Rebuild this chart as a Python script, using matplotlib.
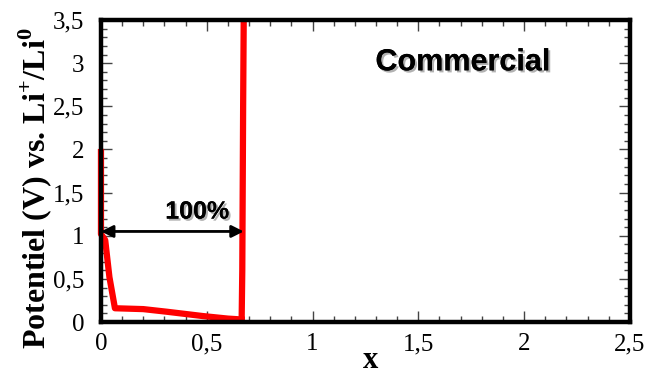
import matplotlib
matplotlib.use("Agg")
import matplotlib.pyplot as plt
import matplotlib.patheffects as pe
from matplotlib.ticker import MultipleLocator, FuncFormatter

plt.rcParams["mathtext.fontset"] = "custom"
plt.rcParams["mathtext.bf"] = "Liberation Serif:bold"
plt.rcParams["mathtext.rm"] = "Liberation Serif"
plt.rcParams["mathtext.sf"] = "Liberation Serif:bold"

# Galvanostatic discharge then charge, commercial sample
x_discharge = [0.0, 0.0, 0.0, 0.02, 0.04, 0.066, 0.20, 0.31, 0.48, 0.60, 0.665]
v_discharge = [1.97, 1.50, 1.02, 0.95, 0.52, 0.16, 0.15, 0.12, 0.07, 0.04, 0.03]
x_charge = [0.665, 0.668, 0.672, 0.675]
v_charge = [0.03, 0.60, 2.50, 3.60]

arrow_x = [0.0, 0.675]
arrow_y = 1.05
arrow_text = "100%"
sample_text = "Commercial"

fig = plt.figure(figsize=(6.46, 3.78), dpi=100)
ax = fig.add_axes([0.1563, 0.148, 0.8187, 0.799])

red = "#ff0000"
ax.plot(x_discharge, v_discharge, color=red, lw=4.5, solid_joinstyle="round",
        clip_on=False, zorder=2)
ax.plot(x_charge, v_charge, color=red, lw=4.5, solid_joinstyle="round", zorder=2)

ax.set_xlim(0, 2.5)
ax.set_ylim(0, 3.5)

ax.xaxis.set_major_locator(MultipleLocator(0.5))
ax.xaxis.set_minor_locator(MultipleLocator(0.1))
ax.yaxis.set_major_locator(MultipleLocator(0.5))
ax.yaxis.set_minor_locator(MultipleLocator(0.1))

fmt = FuncFormatter(lambda v, p: ("%g" % v).replace(".", ","))
ax.xaxis.set_major_formatter(fmt)
ax.yaxis.set_major_formatter(fmt)

ax.tick_params(which="both", direction="in", top=True, right=True, color="#444444")
ax.tick_params(which="major", length=8, width=1.0, labelsize=18)
ax.tick_params(axis="y", which="major", pad=12)
ax.tick_params(axis="x", which="major", pad=8)
ax.tick_params(which="minor", length=4, width=1.0)
for lab in ax.get_xticklabels() + ax.get_yticklabels():
    lab.set_fontfamily("Liberation Serif")

for s in ax.spines.values():
    s.set_linewidth(3.2)

ax.set_ylabel("Potentiel (V) vs. Li$^{\\mathbf{+}}$/Li$^{\\mathbf{0}}$",
              fontfamily="Liberation Serif", fontweight="bold", fontsize=23)
ax.yaxis.set_label_coords(-0.088, 0.445)
ax.set_xlabel("x", fontfamily="Liberation Serif", fontweight="bold", fontsize=22)
ax.xaxis.set_label_coords(0.51, -0.078)
ax.xaxis.label.set_verticalalignment("top")

ax.annotate("", xy=(arrow_x[1], arrow_y), xytext=(arrow_x[0], arrow_y),
            arrowprops=dict(arrowstyle="<|-|>", color="black", lw=2,
                            mutation_scale=18, shrinkA=0, shrinkB=0), zorder=4)

shadow = [pe.withSimplePatchShadow(offset=(1.5, -1.5), shadow_rgbFace="gray", alpha=0.6), pe.Normal()]
ax.text(0.455, 1.28, arrow_text, ha="center", va="center", fontsize=18,
        fontweight="bold", fontfamily="Liberation Sans", path_effects=shadow)
ax.text(1.71, 3.01, sample_text, ha="center", va="center", fontsize=22,
        fontweight="bold", fontfamily="Liberation Sans", path_effects=shadow)

fig.savefig("out.png", dpi=100)
